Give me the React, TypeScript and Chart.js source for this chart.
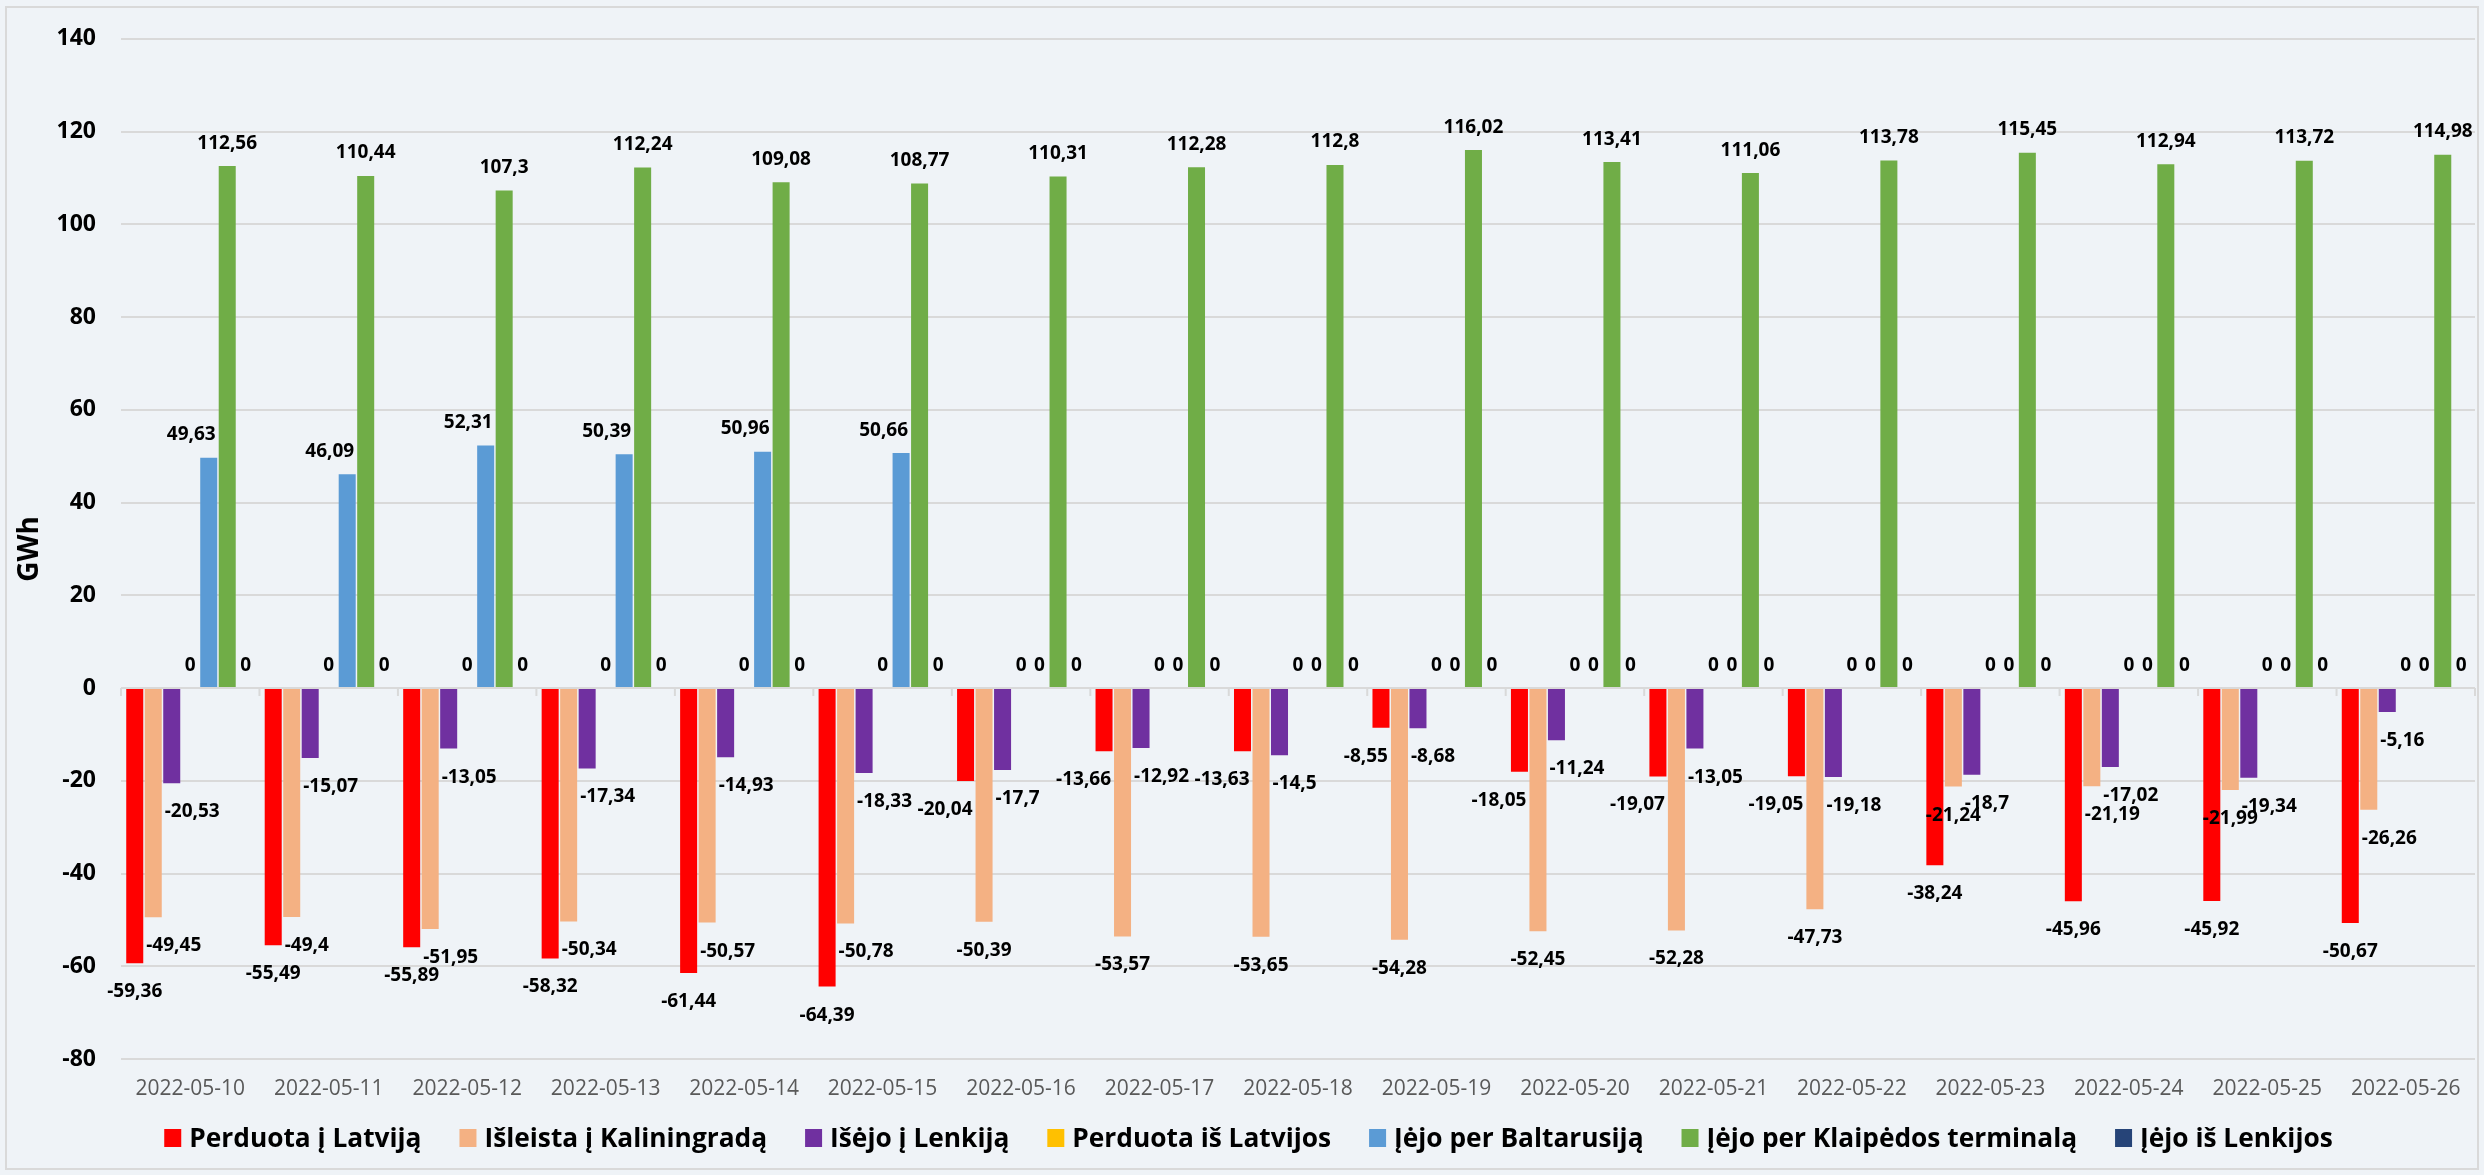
import React, { useEffect, useRef } from 'react';
import { Chart, registerables } from 'chart.js';

Chart.register(...registerables);

const categories = [
  '2022-05-10', '2022-05-11', '2022-05-12', '2022-05-13', '2022-05-14', '2022-05-15',
  '2022-05-16', '2022-05-17', '2022-05-18', '2022-05-19', '2022-05-20', '2022-05-21',
  '2022-05-22', '2022-05-23', '2022-05-24', '2022-05-25', '2022-05-26',
];

const perduotaILatvija = [-59.36, -55.49, -55.89, -58.32, -61.44, -64.39, -20.04, -13.66, -13.63, -8.55, -18.05, -19.07, -19.05, -38.24, -45.96, -45.92, -50.67];
const isleistaIKaliningrada = [-49.45, -49.4, -51.95, -50.34, -50.57, -50.78, -50.39, -53.57, -53.65, -54.28, -52.45, -52.28, -47.73, -21.24, -21.19, -21.99, -26.26];
const isejoILenkija = [-20.53, -15.07, -13.05, -17.34, -14.93, -18.33, -17.7, -12.92, -14.5, -8.68, -11.24, -13.05, -19.18, -18.7, -17.02, -19.34, -5.16];
const perduotaIsLatvijos = [0, 0, 0, 0, 0, 0, 0, 0, 0, 0, 0, 0, 0, 0, 0, 0, 0];
const iejoPerBaltarusija = [49.63, 46.09, 52.31, 50.39, 50.96, 50.66, 0, 0, 0, 0, 0, 0, 0, 0, 0, 0, 0];
const iejoPerKlaipedosTerminala = [112.56, 110.44, 107.3, 112.24, 109.08, 108.77, 110.31, 112.28, 112.8, 116.02, 113.41, 111.06, 113.78, 115.45, 112.94, 113.72, 114.98];
const iejoIsLenkijos = [0, 0, 0, 0, 0, 0, 0, 0, 0, 0, 0, 0, 0, 0, 0, 0, 0];

const seriesLabels = [
  'Perduota į Latviją',
  'Išleista į Kaliningradą',
  'Išėjo į Lenkiją',
  'Perduota iš Latvijos',
  'Įėjo per Baltarusiją',
  'Įėjo per Klaipėdos terminalą',
  'Įėjo iš Lenkijos',
];
const seriesColors = ['#FF0000', '#F4B183', '#7030A0', '#FFC000', '#5B9BD5', '#70AD47', '#264478'];

const Y_MIN = -80;
const Y_MAX = 140;
const Y_STEP = 20;
const Y_TITLE = 'GWh';

const FONT = "'Open Sans', 'Noto Sans', sans-serif";
const BG = '#EFF3F7';
const GRID = '#D9D9D9';

const fmt = (v: number) => String(v).replace('.', ',');

const backgroundPlugin = {
  id: 'bgPlugin',
  beforeDraw(chart: any) {
    const { ctx, width, height } = chart;
    ctx.save();
    ctx.fillStyle = BG;
    ctx.fillRect(0, 0, width, height);
    ctx.strokeStyle = GRID;
    ctx.lineWidth = 2;
    ctx.strokeRect(6, 7, width - 12, height - 13);
    ctx.restore();
  },
};

const axisTicksPlugin = {
  id: 'axisTicks',
  beforeDatasetsDraw(chart: any) {
    const { ctx } = chart;
    const xs = chart.scales.x;
    const ys = chart.scales.y;
    const y0 = ys.getPixelForValue(0);
    const n = chart.data.labels.length;
    const cw = (xs.right - xs.left) / n;
    ctx.save();
    ctx.strokeStyle = GRID;
    ctx.lineWidth = 2;
    for (let i = 0; i <= n; i++) {
      const x = xs.left + i * cw;
      ctx.beginPath();
      ctx.moveTo(x, y0);
      ctx.lineTo(x, y0 + 8);
      ctx.stroke();
    }
    ctx.restore();
  },
};

type Rect = { l: number; r: number; t: number; b: number };
const overlaps = (a: Rect, b: Rect) => a.l < b.r && a.r > b.l && a.t < b.b && a.b > b.t;

const dataLabelPlugin = {
  id: 'dataLabels',
  afterDatasetsDraw(chart: any) {
    const { ctx } = chart;
    const n = chart.data.labels.length;
    const metas = chart.data.datasets.map((_: any, i: number) => chart.getDatasetMeta(i));
    ctx.save();
    ctx.font = `bold 19px ${FONT}`;
    ctx.fillStyle = '#000000';
    ctx.textAlign = 'left';
    ctx.textBaseline = 'alphabetic';
    const capH = 13.5;
    for (let j = 0; j < n; j++) {
      const bars = metas.map((m: any) => m.data[j]);
      const placed: Rect[] = [];
      for (let i = metas.length - 1; i >= 0; i--) {
        const el = bars[i];
        const v = chart.data.datasets[i].data[j] as number;
        const text = fmt(v);
        const w = ctx.measureText(text).width;
        const baseline = v >= 0 ? el.y - 17.5 : el.y + 34;
        const top = baseline - capH - 10;
        const bottom = baseline + 4;
        const left = el.x - w / 2;
        let shift = 0;
        bars.forEach((b: any, k: number) => {
          if (k === i) return;
          const bl = b.x - b.width / 2;
          const br = b.x + b.width / 2;
          const bt = Math.min(b.y, b.base);
          const bb = Math.max(b.y, b.base);
          if (bb - bt < 0.5) return;
          const l = left + shift;
          if (l < br && l + w > bl && top < bb && bottom > bt) {
            if (b.x < el.x) shift = br + 3 - left;
            else shift = bl - 3 - (left + w);
          }
        });
        const mk = (s: number): Rect => ({ l: left + s, r: left + s + w, t: baseline - capH - 1, b: baseline + 3 });
        let rect = mk(shift);
        if (shift !== 0 && placed.some((p) => overlaps(p, rect))) {
          rect = mk(0);
        }
        placed.push(rect);
        ctx.fillText(text, rect.l, baseline);
      }
    }
    ctx.restore();
  },
};

const legendPlugin = {
  id: 'customLegend',
  afterDraw(chart: any) {
    const { ctx } = chart;
    ctx.save();
    ctx.font = `bold 26.3px ${FONT}`;
    ctx.textAlign = 'left';
    ctx.textBaseline = 'alphabetic';
    const items = chart.data.datasets.map((ds: any) => ({
      text: ds.label as string,
      color: ds.backgroundColor as string,
      w: ctx.measureText(ds.label).width,
    }));
    const boxW = 17;
    const boxH = 18;
    const gap = 8;
    const itemGap = 38;
    const total = items.reduce((s: number, it: any) => s + boxW + gap + it.w, 0) + itemGap * (items.length - 1);
    let x = chart.width / 2 + 6.5 - total / 2;
    const baseline = 1147;
    items.forEach((it: any) => {
      ctx.fillStyle = it.color;
      ctx.fillRect(x, baseline - boxH, boxW, boxH);
      ctx.fillStyle = '#000000';
      ctx.fillText(it.text, x + boxW + gap, baseline);
      x += boxW + gap + it.w + itemGap;
    });
    ctx.restore();
  },
};

export default function App() {
  const canvasRef = useRef<HTMLCanvasElement | null>(null);

  useEffect(() => {
    if (!canvasRef.current) return;
    const seriesData = [
      perduotaILatvija,
      isleistaIKaliningrada,
      isejoILenkija,
      perduotaIsLatvijos,
      iejoPerBaltarusija,
      iejoPerKlaipedosTerminala,
      iejoIsLenkijos,
    ];
    const chart = new Chart(canvasRef.current, {
      type: 'bar',
      data: {
        labels: categories,
        datasets: seriesData.map((d, i) => ({
          label: seriesLabels[i],
          data: d,
          backgroundColor: seriesColors[i],
          borderWidth: 0,
          categoryPercentage: 0.935,
          barPercentage: 0.92,
        })),
      },
      options: {
        animation: false,
        responsive: false,
        maintainAspectRatio: false,
        layout: { padding: { left: 0, right: 9, top: 36, bottom: 66 } },
        plugins: {
          legend: { display: false },
          tooltip: { enabled: false },
        },
        scales: {
          x: {
            grid: { display: false, drawTicks: false },
            border: { display: false },
            ticks: {
              color: '#595959',
              font: { family: FONT, size: 21 },
              padding: 17,
              maxRotation: 0,
              autoSkip: false,
            },
            afterFit: (s: any) => { s.height = 50; },
          },
          y: {
            min: Y_MIN,
            max: Y_MAX,
            ticks: {
              stepSize: Y_STEP,
              color: '#000000',
              font: { family: FONT, size: 23, weight: 'bold' },
              padding: 25,
              callback: (v: any) => String(v),
            },
            grid: { color: GRID, lineWidth: 2, drawTicks: false },
            border: { display: false },
            title: {
              display: true,
              text: Y_TITLE,
              color: '#000000',
              font: { family: FONT, size: 28, weight: 'bold' },
              padding: { top: 13, bottom: 0 },
            },
            afterFit: (s: any) => { s.width = 121; },
          },
        },
      } as any,
      plugins: [backgroundPlugin, axisTicksPlugin, dataLabelPlugin, legendPlugin],
    });
    return () => chart.destroy();
  }, []);

  return (
    <div style={{ position: 'fixed', left: 0, top: 0, width: 2484, height: 1175, background: BG }}>
      <canvas ref={canvasRef} width={2484} height={1175} style={{ display: 'block' }} />
    </div>
  );
}
